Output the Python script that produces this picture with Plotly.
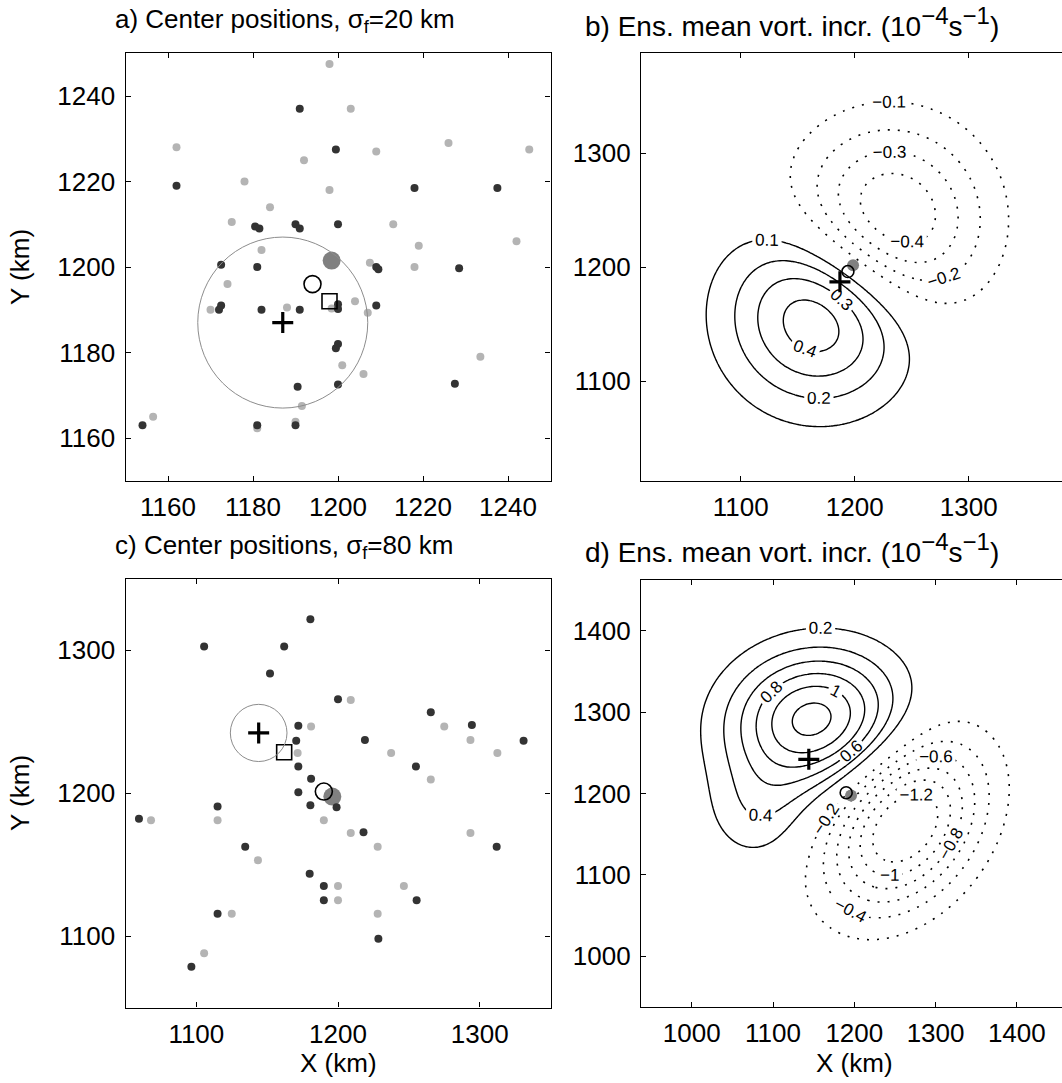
import numpy as np
import plotly.graph_objects as go

W, H = 1062, 1083

# ---------------- Panel a (sigma_f = 20 km) : ensemble centre positions ----------------
a_light_x = [1162, 1192, 1178, 1184, 1175, 1182, 1198, 1203, 1209, 1226, 1245, 1198, 1213, 1219, 1242,
             1174, 1170, 1188, 1191.5, 1156.5, 1181, 1190, 1207.5, 1218, 1198.5, 1204, 1207, 1201, 1206, 1233.5]
a_light_y = [1228, 1225, 1220, 1214, 1210.5, 1204, 1247.5, 1237, 1227, 1229, 1227.5, 1218, 1210, 1205, 1206,
             1196, 1190, 1190.5, 1167.5, 1165, 1162.3, 1163.8, 1201, 1200, 1190.3, 1192, 1189.3, 1177, 1175, 1179]
a_dark_x = [1191, 1162, 1180.5, 1181.5, 1190, 1191, 1199.5, 1218, 1237.5, 1200, 1172.5, 1181, 1172, 1172.5, 1182,
            1191, 1190.5, 1154, 1181, 1190, 1209, 1209.5, 1228.5, 1200, 1200, 1209, 1200, 1199.5, 1200, 1227.5]
a_dark_y = [1237, 1219, 1209.5, 1209, 1210, 1209, 1227.5, 1218.5, 1218.5, 1210, 1200.5, 1200, 1190, 1191, 1190,
            1190, 1172, 1163, 1163, 1163, 1200, 1199.5, 1199.7, 1191.3, 1190.2, 1191, 1182, 1181, 1172.5, 1172.7]
a_plus = [1187, 1187]          # centre marked by "+"
a_open_circle = [1194, 1196]
a_square = [1198, 1192]
a_gray_disc = [1198.5, 1201.5]

# ---------------- Panel c (sigma_f = 80 km) ----------------
c_light_x = [1181, 1171.5, 1209, 1275, 1293.5, 1237.5, 1312.5, 1265.5, 1068, 1115, 1190, 1143.5, 1125, 1105.5,
             1209, 1228, 1293.5, 1200, 1246.5, 1200, 1228]
c_light_y = [1246.5, 1228, 1265, 1246.5, 1237, 1228, 1228, 1209.5, 1181, 1181, 1181, 1153, 1115.5, 1088,
             1172, 1162.5, 1172, 1135, 1135, 1125, 1115.5]
c_dark_x = [1180.5, 1105.5, 1162, 1152, 1172, 1170.5, 1172, 1181, 1200, 1265.5, 1294.5, 1331, 1219, 1255, 1172,
            1180.5, 1059.5, 1115, 1134.5, 1180, 1190, 1190, 1115, 1096.5, 1199, 1218, 1312, 1255.5, 1228.5]
c_dark_y = [1321.5, 1302.5, 1302.5, 1283.5, 1247, 1236.5, 1218.5, 1210, 1265.5, 1256.5, 1247.5, 1236.5, 1237, 1218.5,
            1200.5, 1191.5, 1182, 1190.5, 1162.5, 1143.5, 1135, 1125, 1115.5, 1078.5, 1190, 1172.5, 1162.5, 1125, 1098]
c_plus = [1144, 1242]
c_open_circle = [1190, 1201]
c_square = [1162, 1228.5]
c_gray_disc = [1196, 1197.5]

circle_radius_km = 20

# ---------------- Panels b, d : ensemble mean vorticity increment (1e-4 s^-1) ----------------
# field represented as a sum of rotated Gaussian components (centre, amplitude, widths, angle)
b_cx = [1183, 1215]
b_cy = [1177, 1220]
b_amp = [0.94, -0.93]
b_sig_u = [60, 63]
b_sig_v = [56, 57]
b_ang = [50, 52]
b_pos_levels = [0.1, 0.4, 0.1]
b_neg_levels = [-0.4, -0.1, 0.1]

d_cx = [1150, 1082, 1262]
d_cy = [1291, 1175, 1161]
d_amp = [1.28, 0.30, -1.48]
d_sig_u = [72, 45, 78]
d_sig_v = [58, 45, 55]
d_ang = [10, 0, 52.7]
d_pos_levels = [0.2, 1.2, 0.2]
d_neg_levels = [-1.2, -0.2, 0.2]

# ---------------- geometry (pixels) ----------------
A_X = (125.5, 550.5); A_Y = (53.25, 480.75)
B_X = (641, 1062);    B_Y = (53.25, 480.75)
C_X = (125.5, 550.5); C_Y = (578.5, 1007.5)
D_X = (641, 1062);    D_Y = (580.2, 1006.8)

def dx(p):
    return [p[0] / W, p[1] / W]

def dy(p):
    return [1 - p[1] / H, 1 - p[0] / H]

b_range_y = [1012.5, 1387.5]
b_range_x = [1012.5, 1012.5 + (B_X[1] - B_X[0]) / ((B_Y[1] - B_Y[0]) / 375.0)]
d_range_y = [937.5, 1462.5]
d_range_x = [937.5, 937.5 + (D_X[1] - D_X[0]) / ((D_Y[1] - D_Y[0]) / 525.0)]

FONT = "Liberation Sans, Arial, Helvetica, sans-serif"
DARK = "#333333"
LIGHT = "#b4b4b4"
GRAY = "#808080"
TICK_SIZE = 26
TITLE_SIZE = 26
TITLE_SIZE_RIGHT = 28

fig = go.Figure()


def field(xr, yr, cx, cy, amp, su, sv, ang, n=201):
    xs = np.linspace(xr[0], xr[1], n)
    ys = np.linspace(yr[0], yr[1], n)
    X, Y = np.meshgrid(xs, ys)
    Z = np.zeros_like(X)
    for x0, y0, A, s_u, s_v, an in zip(cx, cy, amp, su, sv, ang):
        th = np.radians(an)
        ddx, ddy = X - x0, Y - y0
        u = ddx * np.cos(th) + ddy * np.sin(th)
        v = -ddx * np.sin(th) + ddy * np.cos(th)
        Z += A * np.exp(-(u ** 2 / (2 * s_u ** 2) + v ** 2 / (2 * s_v ** 2)))
    return xs, ys, Z


def add_contours(xa, ya, xs, ys, Z, lev, dash):
    fig.add_trace(go.Contour(
        x=xs, y=ys, z=Z, xaxis=xa, yaxis=ya,
        autocontour=False,
        contours=dict(start=lev[0], end=lev[1] + lev[2] * 0.05, size=lev[2], coloring="none",
                      showlabels=True, labelfont=dict(family=FONT, size=17, color="black"),
                      labelformat=".2~g"),
        line=dict(color="black", width=1.4 if dash == "solid" else 1.6, dash=dash),
        showscale=False, hoverinfo="skip", showlegend=False))


def add_points(xa, ya, lx, ly, dkx, dky, plus, circ, sq, disc, big=True):
    if lx is not None:
        fig.add_trace(go.Scatter(x=lx, y=ly, mode="markers", xaxis=xa, yaxis=ya,
                                 marker=dict(size=8, color=LIGHT), hoverinfo="skip", showlegend=False))
    fig.add_trace(go.Scatter(x=[disc[0]], y=[disc[1]], mode="markers", xaxis=xa, yaxis=ya,
                             marker=dict(size=18 if big else 12, color=GRAY), hoverinfo="skip", showlegend=False))
    if dkx is not None:
        fig.add_trace(go.Scatter(x=dkx, y=dky, mode="markers", xaxis=xa, yaxis=ya,
                                 marker=dict(size=8, color=DARK), hoverinfo="skip", showlegend=False))
    fig.add_trace(go.Scatter(x=[circ[0]], y=[circ[1]], mode="markers", xaxis=xa, yaxis=ya,
                             marker=dict(size=17 if big else 12, symbol="circle-open", color="black",
                                         line=dict(width=1.6, color="black")),
                             hoverinfo="skip", showlegend=False))
    if sq is not None:
        fig.add_trace(go.Scatter(x=[sq[0]], y=[sq[1]], mode="markers", xaxis=xa, yaxis=ya,
                                 marker=dict(size=15, symbol="square-open", color="black",
                                             line=dict(width=1.6, color="black")),
                                 hoverinfo="skip", showlegend=False))
    fig.add_trace(go.Scatter(x=[plus[0]], y=[plus[1]], mode="markers", xaxis=xa, yaxis=ya,
                             marker=dict(size=15, symbol="cross-thin", color="black",
                                         line=dict(width=3.2, color="black")),
                             hoverinfo="skip", showlegend=False))


# panel a
add_points("x", "y", a_light_x, a_light_y, a_dark_x, a_dark_y, a_plus, a_open_circle, a_square, a_gray_disc)
# panel b
xs, ys, Z = field(b_range_y, b_range_y, b_cx, b_cy, b_amp, b_sig_u, b_sig_v, b_ang)
add_contours("x2", "y2", xs, ys, Z, b_pos_levels, "solid")
add_contours("x2", "y2", xs, ys, Z, b_neg_levels, "2px,8px")
add_points("x2", "y2", None, None, None, None, a_plus, a_open_circle, None, a_gray_disc, big=False)
# panel c
add_points("x3", "y3", c_light_x, c_light_y, c_dark_x, c_dark_y, c_plus, c_open_circle, c_square, c_gray_disc)
# panel d
xs, ys, Z = field(d_range_y, d_range_y, d_cx, d_cy, d_amp, d_sig_u, d_sig_v, d_ang)
add_contours("x4", "y4", xs, ys, Z, d_pos_levels, "solid")
add_contours("x4", "y4", xs, ys, Z, d_neg_levels, "2px,8px")
add_points("x4", "y4", None, None, None, None, c_plus, c_open_circle, None, c_gray_disc, big=False)

# radius circles around the "+" centres
for xr, yr, cen in (("x", "y", a_plus), ("x3", "y3", c_plus)):
    fig.add_shape(type="circle", xref=xr, yref=yr,
                  x0=cen[0] - circle_radius_km, x1=cen[0] + circle_radius_km,
                  y0=cen[1] - circle_radius_km, y1=cen[1] + circle_radius_km,
                  line=dict(color="#8c8c8c", width=1), layer="above")

tickfont = dict(family=FONT, size=TICK_SIZE, color="black")


def ax(domain, rng, tickvals, mirror, standoff):
    return dict(domain=domain, range=rng, tickvals=tickvals, ticktext=[str(t) for t in tickvals],
                showline=True, linecolor="black", linewidth=1.3, mirror=mirror,
                ticks="inside", ticklen=5, tickwidth=1.3, tickcolor="black",
                showgrid=False, zeroline=False, tickfont=tickfont, ticklabelstandoff=standoff,
                fixedrange=True)


layout = dict(
    width=W, height=H, margin=dict(l=0, r=0, t=0, b=0),
    paper_bgcolor="white", plot_bgcolor="white", showlegend=False,
    font=dict(family=FONT, size=TICK_SIZE, color="black"),
    xaxis=ax(dx(A_X), [1150, 1250], [1160, 1180, 1200, 1220, 1240], "ticks", 3),
    yaxis=ax(dy(A_Y), [1150, 1250], [1160, 1180, 1200, 1220, 1240], "ticks", 4),
    xaxis2=ax(dx(B_X), b_range_x, [1100, 1200, 1300], "ticks", 3),
    yaxis2=ax(dy(B_Y), b_range_y, [1100, 1200, 1300], False, 4),
    xaxis3=ax(dx(C_X), [1050, 1350], [1100, 1200, 1300], "ticks", 3),
    yaxis3=ax(dy(C_Y), [1050, 1350], [1100, 1200, 1300], "ticks", 4),
    xaxis4=ax(dx(D_X), d_range_x, [1000, 1100, 1200, 1300, 1400], "ticks", 3),
    yaxis4=ax(dy(D_Y), d_range_y, [1000, 1100, 1200, 1300, 1400], False, 4),
)
layout["xaxis"]["anchor"] = "y"; layout["yaxis"]["anchor"] = "x"
layout["xaxis2"]["anchor"] = "y2"; layout["yaxis2"]["anchor"] = "x2"
layout["xaxis3"]["anchor"] = "y3"; layout["yaxis3"]["anchor"] = "x3"
layout["xaxis4"]["anchor"] = "y4"; layout["yaxis4"]["anchor"] = "x4"
fig.update_layout(**layout)

SUP = "<sup><span style='font-size:24px'>{}</span></sup>"
vort_title = "Ens. mean vort. incr. (10" + SUP.format("−4") + "s" + SUP.format("−1") + ")"
titles = [
    ("a) Center positions, σ<sub>f</sub>=20 km", 113, 20, TITLE_SIZE),
    ("b) " + vort_title, 583, 22, TITLE_SIZE_RIGHT),
    ("c) Center positions, σ<sub>f</sub>=80 km", 113, 546, TITLE_SIZE),
    ("d) " + vort_title, 583, 548, TITLE_SIZE_RIGHT),
]
for txt, px, py, fs in titles:
    fig.add_annotation(text=txt, xref="paper", yref="paper", x=px / W, y=1 - py / H,
                       xanchor="left", yanchor="middle", showarrow=False,
                       font=dict(family=FONT, size=fs, color="black"))

for py in (267, 793):
    fig.add_annotation(text="Y (km)", xref="paper", yref="paper", x=20 / W, y=1 - py / H,
                       textangle=-90, xanchor="center", yanchor="middle", showarrow=False,
                       font=dict(family=FONT, size=TITLE_SIZE, color="black"))
for px in (338, 854):
    fig.add_annotation(text="X (km)", xref="paper", yref="paper", x=px / W, y=1 - 1063 / H,
                       xanchor="center", yanchor="middle", showarrow=False,
                       font=dict(family=FONT, size=TITLE_SIZE, color="black"))

fig.write_html("out.html", include_plotlyjs=True, full_html=True, config={"displayModeBar": False})
